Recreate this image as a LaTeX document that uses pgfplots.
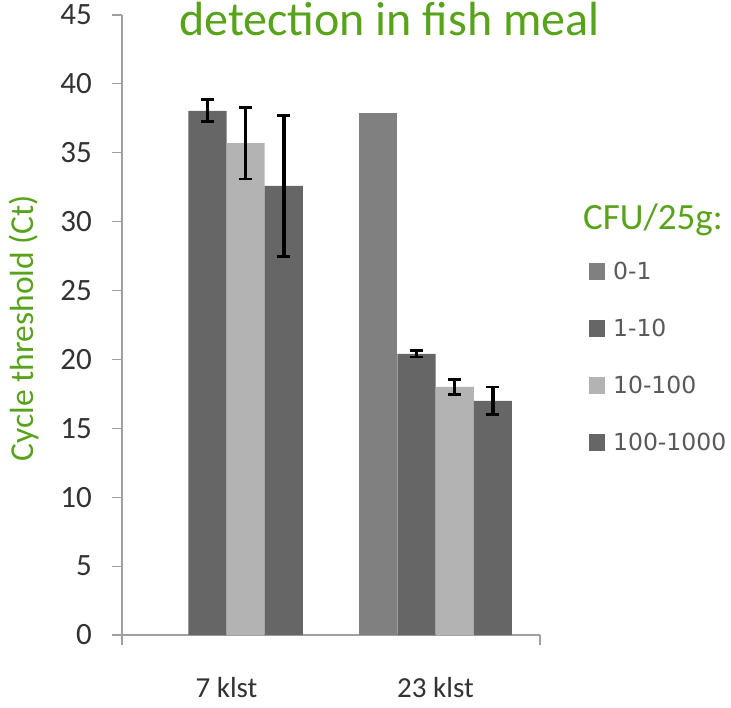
\documentclass[border=0pt]{standalone}
\usepackage{pgfplots}
\pgfplotsset{compat=1.18}
\usepackage{fontspec}
\setmainfont{Carlito}
\newfontfamily\legfont{DejaVu Sans}
\definecolor{ttlgreen}{RGB}{88,163,28}
\definecolor{axgray}{RGB}{160,160,160}
\definecolor{lblgray}{RGB}{50,50,50}
\definecolor{leggray}{RGB}{89,89,89}
\definecolor{cA}{RGB}{128,128,128}
\definecolor{cB}{RGB}{102,102,102}
\definecolor{cC}{RGB}{179,179,179}
\definecolor{cD}{RGB}{102,102,102}
\pgfplotsset{myerr/.style={error bars/.cd, y dir=both, y explicit,
    error bar style={line width=3.6pt, draw=black, solid},
    error mark options={rotate=90, mark size=6.5pt, line width=2.8pt, black}}}
\begin{document}
\begin{tikzpicture}[x=1pt,y=1pt]
\useasboundingbox (0,0) rectangle (731,707);
\begin{axis}[
  at={(122pt,72pt)}, anchor=south west,
  width=418pt, height=620pt, scale only axis,
  xmin=-0.5, xmax=1.5, ymin=0, ymax=45,
  ybar=0pt, bar width=0.183,
  axis lines=left,
  axis line style={-, draw=axgray, line width=1.2pt},
  xtick={-0.5,1.5}, xticklabels={},
  x tick style={draw=axgray, line width=1.2pt},
  extra x ticks={0,1}, extra x tick labels={7 klst, 23 klst},
  extra x tick style={major tick length=0pt, x tick style={draw=none}},
  ytick={0,5,...,45},
  tick align=outside,
  major tick length=10pt,
  y tick style={draw=axgray, line width=1.2pt},
  /pgf/number format/assume math mode=true,
  yticklabel style={font=\fontsize{31}{36}\selectfont, text=lblgray, inner sep=0pt, xshift=-20pt},
  xticklabel style={font=\fontsize{29}{34}\selectfont, text=lblgray, anchor=base, yshift=-62pt},
  legend style={at={(axis description cs:1.117,0.603)}, anchor=north west, draw=none, fill=none,
    font=\legfont\fontsize{23.5}{28}\selectfont, text=leggray, row sep=36pt, inner sep=0pt,
    nodes={inner sep=1pt}},
  legend cell align=left,
  legend image code/.code={\fill[#1] (0pt,-8.5pt) rectangle (16pt,8.5pt);},
]
\addplot[fill=cA, draw=none] coordinates {(1,37.9)};
\addplot[fill=cB, draw=none, myerr] coordinates {(0,38.05) +- (0,0.8) (1,20.4) +- (0,0.22)};
\addplot[fill=cC, draw=none, myerr] coordinates {(0,35.7) +- (0,2.6) (1,18.0) +- (0,0.55)};
\addplot[fill=cD, draw=none, myerr] coordinates {(0,32.6) +- (0,5.1) (1,17.0) +- (0,1.0)};
\legend{\hspace{7pt}0-1,\hspace{7pt}1-10,\hspace{7pt}10-100,\hspace{7pt}100-1000}
\end{axis}
\node[anchor=base west, text=ttlgreen, font=\fontsize{48}{56}\selectfont, inner sep=0pt] at (179,671) {detection in fish meal};
\node[anchor=base west, text=ttlgreen, font=\fontsize{37}{44}\selectfont, inner sep=0pt] at (583,477) {CFU/25g:};
\node[anchor=base, rotate=90, text=ttlgreen, font=\fontsize{33.5}{40}\selectfont, inner sep=0pt] at (33,379) {Cycle threshold (Ct)};
\end{tikzpicture}
\end{document}
